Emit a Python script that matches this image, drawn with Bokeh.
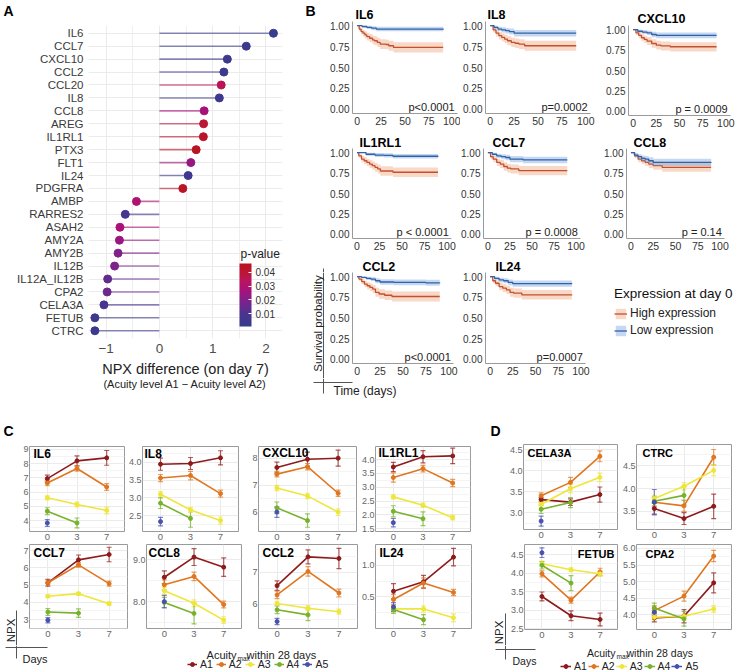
import numpy as np
from bokeh.plotting import figure
from bokeh.layouts import row, column
from bokeh.models import (Range1d, FactorRange, FixedTicker, NumeralTickFormatter, Label,
                          ColorBar, LinearColorMapper, Legend, LegendItem, Whisker, TeeHead,
                          ColumnDataSource)
from bokeh.transform import transform
from bokeh.embed import file_html
from bokeh.resources import INLINE

FONT = "Liberation Sans"

# ---------------- Panel A data ----------------
A_GENES = ["IL6", "CCL7", "CXCL10", "CCL2", "CCL20", "IL8", "CCL8", "AREG", "IL1RL1",
           "PTX3", "FLT1", "IL24", "PDGFRA", "AMBP", "RARRES2", "ASAH2", "AMY2A", "AMY2B",
           "IL12B", "IL12A_IL12B", "CPA2", "CELA3A", "FETUB", "CTRC"]
A_DIFF = [2.14, 1.63, 1.275, 1.21, 1.16, 1.125, 0.84, 0.83, 0.825, 0.69, 0.59, 0.54, 0.44,
          -0.43, -0.64, -0.74, -0.75, -0.775, -0.84, -0.97, -0.98, -1.04, -1.21, -1.21]
A_PVAL = [0.002, 0.003, 0.004, 0.004, 0.035, 0.005, 0.027, 0.040, 0.043, 0.045, 0.024, 0.005,
          0.044, 0.029, 0.008, 0.028, 0.024, 0.020, 0.019, 0.014, 0.016, 0.010, 0.004, 0.004]
A_XTICKS = [-1, 0, 1, 2]
A_PTICKS = [0.01, 0.02, 0.03, 0.04]

# ---------------- Panel B data (Kaplan-Meier knots: day, survival) ----------------
KM_IL6_HT = [0, 2, 4, 6, 8, 10, 13, 16, 18, 21, 24, 30, 33, 38, 90]
KM_IL6_HS = [1, .96, .93, .91, .89, .87, .85, .83, .82, .80, .78, .775, .76, .74, .74]
KM_IL6_LT = [0, 5, 10, 15, 20, 75, 90]
KM_IL6_LS = [1, .99, .98, .97, .96, .96, .95]
KM_IL8_HT = [0, 3, 6, 9, 12, 15, 18, 22, 26, 30, 36, 90]
KM_IL8_HS = [1, .95, .91, .88, .86, .84, .82, .80, .79, .78, .76, .76]
KM_IL8_LT = [0, 4, 8, 12, 16, 20, 25, 90]
KM_IL8_LS = [1, .98, .96, .95, .94, .93, .91, .91]
KM_CXCL10_HT = [0, 3, 6, 9, 12, 15, 20, 25, 30, 40, 90]
KM_CXCL10_HS = [1, .96, .93, .90, .88, .86, .83, .81, .80, .79, .79]
KM_CXCL10_LT = [0, 5, 10, 15, 20, 25, 90]
KM_CXCL10_LS = [1, .98, .97, .96, .94, .93, .93]
KM_IL1RL1_HT = [0, 2, 5, 8, 11, 14, 17, 20, 23, 26, 40, 90]
KM_IL1RL1_HS = [1, .96, .92, .90, .88, .86, .84, .82, .80, .775, .76, .76]
KM_IL1RL1_LT = [0, 10, 20, 30, 40, 90]
KM_IL1RL1_LS = [1, .98, .97, .965, .955, .95]
KM_CCL7_HT = [0, 3, 6, 10, 14, 18, 22, 26, 35, 90]
KM_CCL7_HS = [1, .95, .92, .88, .86, .83, .81, .80, .78, .78]
KM_CCL7_LT = [0, 5, 10, 15, 20, 25, 40, 90]
KM_CCL7_LS = [1, .98, .96, .95, .94, .92, .91, .91]
KM_CCL8_HT = [0, 4, 8, 12, 16, 20, 25, 35, 90]
KM_CCL8_HS = [1, .96, .92, .90, .88, .86, .84, .82, .82]
KM_CCL8_LT = [0, 4, 8, 12, 16, 20, 25, 75, 90]
KM_CCL8_LS = [1, .97, .95, .93, .92, .90, .88, .88, .875]
KM_CCL2_HT = [0, 2, 5, 8, 11, 14, 17, 20, 24, 30, 38, 90]
KM_CCL2_HS = [1, .97, .94, .91, .89, .87, .85, .81, .79, .775, .76, .76]
KM_CCL2_LT = [0, 5, 10, 15, 20, 25, 40, 75, 90]
KM_CCL2_LS = [1, .99, .98, .97, .95, .935, .93, .925, .92]
KM_IL24_HT = [0, 3, 6, 10, 14, 18, 22, 26, 35, 90]
KM_IL24_HS = [1, .95, .92, .88, .86, .84, .81, .80, .78, .775]
KM_IL24_LT = [0, 5, 10, 15, 20, 25, 90]
KM_IL24_LS = [1, .98, .96, .95, .93, .915, .91]
KM_P = {"IL6": "p<0.0001", "IL8": "p=0.0002", "CXCL10": "p = 0.0009", "IL1RL1": "p < 0.0001",
        "CCL7": "p = 0.0008", "CCL8": "p = 0.14", "CCL2": "p<0.0001", "IL24": "p=0.0007"}
N_AT_RISK = 200
KM_XTICKS = [0, 25, 50, 75, 100]
KM_YTICKS = [0, 0.25, 0.5, 0.75, 1.0]

# ---------------- Panels C/D data (mean, SE per acuity group A1..A5 at day 0, 3, 7) ----
DAYS = ["0", "3", "7"]
GROUPS = ["A1", "A2", "A3", "A4", "A5"]
IL6_M = [[6.95, 8.20, 8.41], [6.64, 7.66, 6.36], [5.60, 5.13, 4.71], [4.66, 3.83], [3.83]]
IL6_E = [[0.24, 0.35, 0.52], [0.19, 0.19, 0.24], [0.14, 0.17, 0.24], [0.24, 0.35], [0.24]]
IL8_M = [[3.95, 3.97, 4.13], [3.56, 3.63, 3.12], [3.10, 2.66, 2.36], [2.85, 2.42], [2.33]]
IL8_E = [[0.17, 0.17, 0.20], [0.10, 0.12, 0.10], [0.08, 0.07, 0.10], [0.15, 0.25], [0.12]]
CXCL10_M = [[7.66, 7.97, 8.01], [7.41, 7.69, 6.69], [6.89, 6.59, 5.98], [6.14, 5.66], [5.98]]
CXCL10_E = [[0.20, 0.27, 0.30], [0.10, 0.12, 0.12], [0.10, 0.10, 0.12], [0.22, 0.25], [0.20]]
IL1RL1_M = [[3.73, 4.10, 4.13], [3.35, 3.67, 3.15], [2.65, 2.35, 1.90], [2.13, 1.86], [1.72]]
IL1RL1_E = [[0.17, 0.22, 0.28], [0.17, 0.12, 0.13], [0.07, 0.08, 0.08], [0.20, 0.25], [0.15]]
CCL7_M = [[5.13, 6.46, 6.77], [5.13, 6.17, 5.08], [4.35, 4.50, 3.92], [3.44, 3.37], [2.96]]
CCL7_E = [[0.20, 0.28, 0.42], [0.15, 0.13, 0.15], [0.07, 0.08, 0.10], [0.20, 0.25], [0.15]]
CCL8_M = [[8.58, 9.06, 8.82], [8.40, 8.60, 7.93], [8.26, 7.96, 7.56], [7.98, 7.72], [8.00]]
CCL8_E = [[0.15, 0.20, 0.22], [0.12, 0.10, 0.08], [0.08, 0.08, 0.08], [0.12, 0.25], [0.15]]
CCL2_M = [[6.58, 7.49, 7.44], [6.29, 7.03, 6.35], [6.02, 5.87, 5.76], [5.82, 5.66], [5.45]]
CCL2_E = [[0.15, 0.22, 0.32], [0.12, 0.15, 0.12], [0.07, 0.08, 0.08], [0.12, 0.18], [0.10]]
IL24_M = [[0.59, 0.74, 1.13], [0.46, 0.72, 0.57], [0.31, 0.31, 0.17], [0.30, 0.14], [0.34]]
IL24_E = [[0.12, 0.10, 0.14], [0.08, 0.08, 0.05], [0.05, 0.05, 0.06], [0.06, 0.08], [0.07]]
CELA3A_M = [[3.31, 3.25, 3.43], [3.40, 3.72, 4.34], [3.20, 3.57, 3.84], [3.08, 3.24], [2.80]]
CELA3A_E = [[0.05, 0.08, 0.18], [0.07, 0.12, 0.13], [0.07, 0.10, 0.10], [0.10, 0.12], [0.12]]
CTRC_M = [[3.56, 3.34, 3.61], [3.70, 3.62, 4.69], [3.78, 4.05, 4.40], [3.72, 3.85], [3.70]]
CTRC_E = [[0.12, 0.13, 0.27], [0.10, 0.12, 0.17], [0.07, 0.08, 0.12], [0.10, 0.20], [0.28]]
FETUB_M = [[3.37, 2.85, 2.75], [3.98, 3.27, 4.03], [4.25, 4.09, 3.98], [4.21, 3.73], [4.55]]
FETUB_E = [[0.12, 0.13, 0.17], [0.08, 0.08, 0.10], [0.07, 0.05, 0.07], [0.10, 0.20], [0.13]]
CPA2_M = [[3.90, 3.95, 4.96], [4.12, 4.56, 5.77], [3.92, 3.95, 4.17], [4.20, 3.87], [4.07]]
CPA2_E = [[0.12, 0.20, 0.30], [0.15, 0.15, 0.17], [0.08, 0.05, 0.10], [0.15, 0.22], [0.12]]

# ---------------- styles ----------------
ACU_COLORS = ["#8E1B1B", "#E0761F", "#EEE63A", "#76B22B", "#4850AE"]
HIGH_LINE, HIGH_FILL = "#C4502F", "#EE9F74"
LOW_LINE, LOW_FILL = "#2F62A6", "#6F9BDB"
PAL_STOPS = [(0.0, "#363C8C"), (0.20, "#4B3490"), (0.42, "#82208A"), (0.58, "#A8127A"),
             (0.72, "#BA1460"), (0.86, "#BC1636"), (1.0, "#B8141E")]

def build_palette(stops, n=256):
    pos = np.array([s[0] for s in stops])
    rgb = np.array([[int(c[i:i + 2], 16) for i in (1, 3, 5)] for _, c in stops], float)
    out = []
    for v in np.linspace(0, 1, n):
        r = [np.interp(v, pos, rgb[:, k]) for k in range(3)]
        out.append("#%02x%02x%02x" % tuple(int(round(c)) for c in r))
    return out

PALETTE = build_palette(PAL_STOPS)

# ---------------- geometry helpers (page pixels) ----------------
def X(v):
    return int(round(v))

def Y(v):
    return int(round(v))

def no_align(p):
    if hasattr(p, "frame_align"):
        p.frame_align = False
    return p

def base_fig(region, frame, xr, yr):
    x0, y0, x1, y1 = region
    fx0, fy0, fx1, fy1 = frame
    p = figure(width=X(x1) - X(x0), height=Y(y1) - Y(y0), x_range=xr, y_range=yr,
               min_border_left=X(fx0) - X(x0), min_border_right=X(x1) - X(fx1),
               min_border_top=Y(fy0) - Y(y0), min_border_bottom=Y(y1) - Y(fy1),
               output_backend="svg", toolbar_location=None)
    p.border_fill_color = "white"
    p.axis.minor_tick_out = 0
    p.axis.minor_tick_in = 0
    p.axis.major_tick_out = 0
    p.axis.major_tick_in = 0
    p.axis.major_tick_line_color = None
    p.axis.minor_tick_line_color = None
    return no_align(p)

def slab(p, frame, px, py, text, size, color="#222222", bold=False, align="left"):
    # label inside a plot frame, given in page pixels
    p.add_layout(Label(x=X(px) - X(frame[0]), y=Y(frame[3]) - Y(py), x_units="screen",
                       y_units="screen", text=text, text_font=FONT, text_font_size=f"{size}px",
                       text_color=color, text_font_style="bold" if bold else "normal",
                       text_align=align, text_baseline="middle"))

def canvas(region):
    x0, y0, x1, y1 = region
    p = figure(width=X(x1) - X(x0), height=Y(y1) - Y(y0),
               x_range=Range1d(X(x0), X(x1)), y_range=Range1d(Y(y1), Y(y0)),
               min_border=0, x_axis_location=None, y_axis_location=None,
               output_backend="svg", toolbar_location=None)
    p.grid.visible = False
    p.outline_line_color = None
    p.border_fill_color = "white"
    return no_align(p)

def clab(p, px, py, text, size, color="#222222", align="left", angle=0.0, bold=False):
    p.add_layout(Label(x=X(px), y=Y(py), text=text, text_font=FONT, text_font_size=f"{size}px",
                       text_color=color, text_align=align, text_baseline="middle", angle=angle,
                       text_font_style="bold" if bold else "normal"))

def cline(p, xa, ya, xb, yb):
    p.segment(x0=[X(xa)], y0=[Y(ya)], x1=[X(xb)], y1=[Y(yb)], line_color="#555555", line_width=1)

# ---------------- Panel A ----------------
cvA_top = canvas((0, 0, 290, 22))
clab(cvA_top, 3, 10, "A", 14, "#000000", bold=True)
A_FRAME = (88, 25, 282, 338)
pA = base_fig((0, 22, 290, 360), A_FRAME, Range1d(-1.33, 2.31),
              FactorRange(factors=A_GENES[::-1], range_padding=0.1, range_padding_units="absolute"))
mapper = LinearColorMapper(palette=PALETTE, low=0.0007, high=0.0465)
srcA = ColumnDataSource(dict(g=A_GENES, d=A_DIFF, p=A_PVAL))
pA.segment(x0=0, y0="g", x1="d", y1="g", source=srcA, line_color=transform("p", mapper),
           line_alpha=0.6, line_width=1.6)
pA.scatter(x="d", y="g", source=srcA, size=8, fill_color=transform("p", mapper),
           line_color=transform("p", mapper))
pA.outline_line_color = None
pA.axis.axis_line_color = None
pA.axis.major_label_text_font = FONT
pA.xaxis.ticker = FixedTicker(ticks=A_XTICKS, minor_ticks=[-0.5, 0.5, 1.5])
pA.xaxis.major_label_overrides = {-1: "\u22121"}
pA.xaxis.major_label_text_font_size = "13.5px"
pA.xaxis.major_label_text_color = "#4D4D4D"
pA.xaxis.major_label_standoff = 5
pA.yaxis.major_label_text_font_size = "11.5px"
pA.yaxis.major_label_text_color = "#3A3A3A"
pA.yaxis.major_label_standoff = 5
pA.grid.grid_line_color = "#EBEBEB"
pA.xgrid.minor_grid_line_color = "#EFEFEF"
cb = ColorBar(color_mapper=mapper, location=(239 - A_FRAME[0], A_FRAME[3] - 326), width=12, height=63,
              padding=0, ticker=FixedTicker(ticks=A_PTICKS), formatter=NumeralTickFormatter(format="0.00"),
              major_label_text_font=FONT, major_label_text_font_size="10px",
              major_label_text_color="#333333", major_tick_line_color="white", major_tick_in=3,
              major_tick_out=0, label_standoff=4, bar_line_color=None, background_fill_alpha=0)
pA.add_layout(cb)
slab(pA, A_FRAME, 240, 253, "p-value", 12, "#222222")
cvA_bot = canvas((0, 360, 290, 398))
clab(cvA_bot, 185, 367.5, "NPX difference (on day 7)", 14.5, "#222222", align="center")
clab(cvA_bot, 185, 383, "(Acuity level A1 \u2212 Acuity level A2)", 11, "#222222", align="center")
panelA = column(cvA_top, pA, cvA_bot)

# ---------------- Panel B ----------------
def step_xy(t, s):
    xs, ys = [t[0]], [s[0]]
    for i in range(1, len(t)):
        xs += [t[i], t[i]]
        ys += [s[i - 1], s[i]]
    return np.array(xs, float), np.array(ys, float)

def km_plot(region, frame, name, ht, hs, lt, ls):
    p = base_fig(region, frame, Range1d(-5, 105), Range1d(-0.05, 1.05))
    p.grid.visible = False
    p.outline_line_color = None
    for t, s, lc, fc in ((ht, hs, HIGH_LINE, HIGH_FILL), (lt, ls, LOW_LINE, LOW_FILL)):
        xs, ys = step_xy(t, s)
        hw = 1.96 * np.sqrt(ys * (1 - ys) / N_AT_RISK)
        p.varea(x=xs, y1=ys - hw, y2=np.minimum(ys + hw, 1.0), fill_color=fc, fill_alpha=0.4)
        p.line(x=xs, y=ys, line_color=lc, line_width=1.3)
    p.xaxis.ticker = FixedTicker(ticks=KM_XTICKS)
    p.yaxis.ticker = FixedTicker(ticks=KM_YTICKS)
    p.yaxis.formatter = NumeralTickFormatter(format="0.00")
    p.axis.axis_line_color = "#9A9A9A"
    p.axis.major_label_text_font = FONT
    p.axis.major_label_text_color = "#333333"
    p.xaxis.major_label_text_font_size = "10.5px"
    p.yaxis.major_label_text_font_size = "10px"
    p.axis.major_label_standoff = 3
    p.add_layout(Label(x=102, y=0.025, text=KM_P[name], text_font=FONT, text_font_size="11px",
                       text_color="#222222", text_align="right", text_baseline="middle"))
    return p

def km_cell(region, frame, name, tpos, ht, hs, lt, ls, letter=None):
    x0, y0, x1, y1 = region
    top = round(frame[1])
    cv = canvas((x0, y0, x1, top))
    clab(cv, tpos[0], tpos[1], name, 12.5, "#000000", bold=True)
    if letter:
        clab(cv, letter[0], letter[1], letter[2], 14, "#000000", bold=True)
    p = km_plot((x0, top, x1, y1), frame, name, ht, hs, lt, ls)
    return cv, p

cv11, b11 = km_cell((290, 0, 460, 130), (352, 21, 457, 113.2), "IL6", (355, 14.5),
                    KM_IL6_HT, KM_IL6_HS, KM_IL6_LT, KM_IL6_LS, letter=(305, 10, "B"))
cv12, b12 = km_cell((460, 0, 600, 130), (484.2, 21, 589.8, 113.2), "IL8", (487, 14.5),
                    KM_IL8_HT, KM_IL8_HS, KM_IL8_LT, KM_IL8_LS)
cv13, b13 = km_cell((600, 0, 739, 130), (628.4, 25, 729.6, 115.1), "CXCL10", (637, 18),
                    KM_CXCL10_HT, KM_CXCL10_HS, KM_CXCL10_LT, KM_CXCL10_LS)
cv21, b21 = km_cell((290, 130, 458, 256), (352.2, 148, 451.2, 238.1), "IL1RL1", (359, 141.5),
                    KM_IL1RL1_HT, KM_IL1RL1_HS, KM_IL1RL1_LT, KM_IL1RL1_LS)
cv22, b22 = km_cell((458, 130, 600, 256), (481.5, 148, 579.5, 238.1), "CCL7", (492, 141.5),
                    KM_CCL7_HT, KM_CCL7_HS, KM_CCL7_LT, KM_CCL7_LS)
cv23, b23 = km_cell((600, 130, 739, 256), (625.5, 148, 724.5, 238.1), "CCL8", (633, 141.5),
                    KM_CCL8_HT, KM_CCL8_HS, KM_CCL8_LT, KM_CCL8_LS)

cv31 = canvas((290, 256, 460, 272))
clab(cv31, 362, 265.5, "CCL2", 12.5, "#000000", bold=True)
cline(cv31, 323.3, 268, 323.3, 272)
blankL = canvas((290, 272, 326, 378))
clab(blankL, 317, 323, "Survival probability", 11.5, "#222222", align="center", angle=np.pi / 2)
cline(blankL, 323.3, 272, 323.3, 378)
b31 = km_plot((326, 272, 460, 378), (352.1, 272, 453, 363.2), "CCL2",
              KM_CCL2_HT, KM_CCL2_HS, KM_CCL2_LT, KM_CCL2_LS)
blankB = canvas((290, 378, 460, 398))
cline(blankB, 323.3, 378, 323.3, 393)
cline(blankB, 313, 382, 352, 382)
clab(blankB, 333, 390.5, "Time (days)", 12, "#222222")

cv32 = canvas((460, 256, 600, 272))
clab(cv32, 495, 265.5, "IL24", 12.5, "#000000", bold=True)
b32 = km_plot((460, 272, 600, 398), (484.5, 272, 584.6, 363.2), "IL24",
              KM_IL24_HT, KM_IL24_HS, KM_IL24_LT, KM_IL24_LS)

cvLegB = canvas((600, 256, 739, 398))
leg_items = []
for lbl, lc, fc in (("High expression", HIGH_LINE, HIGH_FILL), ("Low expression", LOW_LINE, LOW_FILL)):
    rb = cvLegB.varea(x=[np.nan, np.nan], y1=[np.nan, np.nan], y2=[np.nan, np.nan],
                      fill_color=fc, fill_alpha=0.4)
    rl = cvLegB.line(x=[np.nan, np.nan], y=[np.nan, np.nan], line_color=lc, line_width=1.3)
    leg_items.append(LegendItem(label=lbl, renderers=[rb, rl]))
legB = Legend(items=leg_items, location=(614 - 600, 398 - 337),
              title="Expression at day 0", title_text_font=FONT, title_text_font_size="13.5px",
              title_text_font_style="normal", title_text_color="#111111", title_standoff=5,
              label_text_font=FONT, label_text_font_size="12px", label_text_color="#222222",
              glyph_width=13, glyph_height=13, label_height=13, label_standoff=3, spacing=3,
              padding=0, margin=0, border_line_color=None, background_fill_alpha=0)
cvLegB.add_layout(legB)

panelB = column(
    row(column(cv11, b11), column(cv12, b12), column(cv13, b13)),
    row(column(cv21, b21), column(cv22, b22), column(cv23, b23)),
    row(column(cv31, row(blankL, b31), blankB), column(cv32, b32), cvLegB))

# ---------------- Panels C / D ----------------
def npx_plot(region, frame, name, tpos, yr, ticks, minor, fmt, M, E, tsize=12, talign="left"):
    p = base_fig(region, frame, Range1d(-0.6, 2.6), Range1d(*yr))
    p.outline_line_color = "#9A9A9A"
    p.outline_line_width = 1
    p.xaxis.ticker = FixedTicker(ticks=[0, 1, 2])
    p.xaxis.major_label_overrides = {i: d for i, d in enumerate(DAYS)}
    p.yaxis.ticker = FixedTicker(ticks=ticks, minor_ticks=minor)
    p.yaxis.formatter = NumeralTickFormatter(format=fmt)
    p.axis.axis_line_color = None
    p.axis.major_label_text_font = FONT
    p.axis.major_label_text_color = "#666666"
    p.xaxis.major_label_text_font_size = "9.5px"
    p.yaxis.major_label_text_font_size = "9px"
    p.xaxis.major_label_standoff = 2
    p.yaxis.major_label_standoff = 1
    p.grid.grid_line_color = "#EBEBEB"
    p.ygrid.minor_grid_line_color = "#F4F4F4"
    for col, m, e in zip(ACU_COLORS, M, E):
        m = np.asarray(m, float)
        e = np.asarray(e, float)
        src = ColumnDataSource(dict(x=np.arange(len(m)), m=m, lo=m - e, hi=m + e))
        if len(m) > 1:
            p.line("x", "m", source=src, line_color=col, line_width=1.6)
        p.add_layout(Whisker(source=src, base="x", upper="hi", lower="lo", line_color=col,
                             line_alpha=0.7, line_width=1.2,
                             upper_head=TeeHead(size=5, line_color=col, line_alpha=0.7, line_width=1.2),
                             lower_head=TeeHead(size=5, line_color=col, line_alpha=0.7, line_width=1.2)))
        p.scatter("x", "m", source=src, size=4, fill_color=col, line_color=col)
    slab(p, frame, tpos[0], tpos[1], name, tsize, "#000000", True, align=talign)
    return p

cvCD = canvas((0, 398, 739, 441))
clab(cvCD, 3, 430, "C", 14, "#000000", bold=True)
clab(cvCD, 490, 430, "D", 14, "#000000", bold=True)

c11 = npx_plot((0, 441, 125, 543), (29, 446, 124.5, 531), "IL6", (33, 453), (3.23, 9.21),
               [4, 5, 6, 7, 8, 9], [3.5, 4.5, 5.5, 6.5, 7.5, 8.5], "0", IL6_M, IL6_E)
c12 = npx_plot((125, 441, 245, 543), (137, 446, 238, 531), "IL8", (139, 453), (2.05, 4.45),
               [2.5, 3.0, 3.5, 4.0], [2.25, 2.75, 3.25, 3.75, 4.25], "0.0", IL8_M, IL8_E)
c13 = npx_plot((245, 441, 358, 543), (258, 446, 356, 531), "CXCL10", (262, 452), (5.25, 8.45),
               [6, 7, 8], [5.5, 6.5, 7.5], "0", CXCL10_M, CXCL10_E)
c14 = npx_plot((358, 441, 480, 543), (373, 446, 470, 531), "IL1RL1", (376, 452), (1.4, 4.47),
               [1.5, 2.0, 2.5, 3.0, 3.5, 4.0], [1.75, 2.25, 2.75, 3.25, 3.75, 4.25], "0.0",
               IL1RL1_M, IL1RL1_E)
d11 = npx_plot((480, 441, 619, 543), (523, 444, 617, 529), "CELA3A", (527, 452), (2.6, 4.62),
               [3.0, 3.5, 4.0, 4.5], [2.75, 3.25, 3.75, 4.25], "0.0", CELA3A_M, CELA3A_E, tsize=11)
d12 = npx_plot((619, 441, 739, 543), (634, 444, 731, 529), "CTRC", (640, 452), (3.1, 4.97),
               [3.5, 4.0, 4.5], [3.25, 3.75, 4.25, 4.75], "0.0", CTRC_M, CTRC_E, tsize=11)

c21 = npx_plot((18, 543, 128, 645), (29, 544, 127, 628), "CCL7", (33, 552), (2.48, 7.35),
               [3, 4, 5, 6, 7], [2.5, 3.5, 4.5, 5.5, 6.5], "0", CCL7_M, CCL7_E)
c22 = npx_plot((128, 543, 245, 645), (146, 544, 241, 628), "CCL8", (148, 552), (7.36, 9.36),
               [8.0, 9.0], [7.5, 8.5], "0.0", CCL8_M, CCL8_E)
c23 = npx_plot((245, 543, 358, 645), (258, 544, 357, 628), "CCL2", (262, 552), (5.23, 7.88),
               [6, 7], [5.5, 6.5, 7.5], "0", CCL2_M, CCL2_E)
c24 = npx_plot((358, 543, 480, 645), (374, 544, 471, 628), "IL24", (378, 552), (0.0, 1.33),
               [0.5, 1.0], [0.25, 0.75, 1.25], "0.0", IL24_M, IL24_E)
d21 = npx_plot((507, 543, 619, 645), (523, 544, 617, 629), "FETUB", (613, 553), (2.48, 4.77),
               [2.5, 3.0, 3.5, 4.0, 4.5], [2.75, 3.25, 3.75, 4.25], "0.0", FETUB_M, FETUB_E,
               tsize=11, talign="right")
d22 = npx_plot((619, 543, 739, 645), (634, 544, 731, 629), "CPA2", (643, 553), (3.55, 6.12),
               [4.0, 4.5, 5.0, 5.5, 6.0], [3.75, 4.25, 4.75, 5.25, 5.75], "0.0", CPA2_M, CPA2_E,
               tsize=11)

blankC = canvas((0, 543, 18, 645))
clab(blankC, 10, 630, "NPX", 11.5, "#222222", align="center", angle=np.pi / 2)
cline(blankC, 16, 610, 16, 645)
blankD = canvas((480, 543, 507, 645))
clab(blankD, 498.5, 632, "NPX", 11.5, "#222222", align="center", angle=np.pi / 2)
cline(blankD, 505, 613, 505, 645)

strip = canvas((0, 645, 739, 672))
cline(strip, 16, 645, 16, 658)
cline(strip, 5, 647, 47, 647)
clab(strip, 22, 658.5, "Days", 11, "#222222")
cline(strip, 505, 645, 505, 659)
cline(strip, 495, 649, 535, 649)
clab(strip, 512, 659.5, "Days", 10.5, "#222222")

def acuity_legend(p, glyph_left, ycenter, glyph_w, spacing, tend, tcy, tsize):
    items = []
    for g, c in zip(GROUPS, ACU_COLORS):
        r1 = p.line(x=[np.nan, np.nan], y=[np.nan, np.nan], line_color=c, line_width=1.5)
        r2 = p.scatter(x=[np.nan], y=[np.nan], size=6, fill_color=c, line_color=c)
        items.append(LegendItem(label=g, renderers=[r1, r2]))
    gh = 10
    leg = Legend(items=items, orientation="horizontal",
                 location=(X(glyph_left), Y(672) - Y(ycenter + gh / 2)),
                 label_text_font=FONT, label_text_font_size="10.5px", label_text_color="#222222",
                 glyph_width=glyph_w, glyph_height=gh, label_height=gh, label_width=8,
                 label_standoff=3, spacing=spacing, padding=0, margin=0,
                 border_line_color=None, background_fill_alpha=0)
    p.add_layout(leg)
    clab(p, tend, tcy, "Acuity", tsize, "#222222", align="right")
    clab(p, tend + 0.8, tcy + 4, "max", 6.5, "#222222")
    clab(p, tend + 10.5, tcy, "within 28 days", tsize, "#222222")

acuity_legend(strip, 187, 664.7, 10, 3, 236, 654, 11)
acuity_legend(strip, 560, 666.7, 11, 1, 615, 652, 10.5)

# ---------------- layout ----------------
top = row(panelA, panelB)
bottom = column(cvCD,
                row(c11, c12, c13, c14, d11, d12),
                row(blankC, c21, c22, c23, c24, blankD, d21, d22),
                strip)
layout = column(top, bottom)

open("out.html", "w").write(file_html(layout, INLINE, title="NPX figure"))
